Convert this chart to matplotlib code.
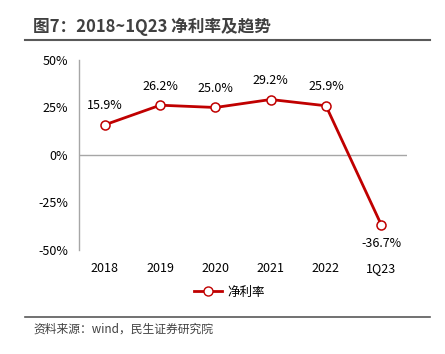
import matplotlib
matplotlib.use("Agg")
import matplotlib.pyplot as plt
from matplotlib.lines import Line2D

plt.rcParams['font.family'] = ['Noto Sans CJK SC', 'DejaVu Sans']

categories = ["2018", "2019", "2020", "2021", "2022", "1Q23"]
net_margin = [15.9, 26.2, 25.0, 29.2, 25.9, -36.7]
yticks = [-50, -25, 0, 25, 50]
red = "#C00000"

fig = plt.figure(figsize=(4.45, 3.54), dpi=100)
ax = fig.add_axes([0.1775, 0.294, 0.7375, 0.5365])

x = list(range(len(categories)))
ax.plot(x, net_margin, color=red, lw=2, marker="o", ms=6.5,
        markerfacecolor="white", markeredgecolor=red, markeredgewidth=1.1,
        zorder=3)

for xi, v in zip(x, net_margin):
    if v >= 0:
        ax.annotate(f"{v:.1f}%", (xi, v), xytext=(0, 9), textcoords="offset points",
                    ha="center", va="bottom", fontsize=9, color="black")
    else:
        ax.annotate(f"{v:.1f}%", (xi, v), xytext=(0, -9), textcoords="offset points",
                    ha="center", va="top", fontsize=9, color="black")

ax.set_xlim(-0.47, len(categories) - 0.53)
ax.set_ylim(-50, 50)
ax.set_yticks(yticks)
ax.set_yticklabels([f"{t}%" for t in yticks], fontsize=9)
ax.set_xticks(x)
ax.set_xticklabels(categories, fontsize=9)
ax.tick_params(axis="y", length=0, pad=8)
ax.tick_params(axis="x", length=0, pad=9)
ax.axhline(0, color="#A6A6A6", lw=1, zorder=1)
for s in ["top", "right", "bottom"]:
    ax.spines[s].set_visible(False)
ax.spines["left"].set_color("#A6A6A6")
ax.spines["left"].set_linewidth(1)

handle = Line2D([], [], color=red, lw=2, marker="o", ms=6.5,
                markerfacecolor="white", markeredgecolor=red)
fig.legend([handle], ["净利率"], loc="center", bbox_to_anchor=(0.515, 0.175),
           frameon=False, fontsize=9, handlelength=2.3, handletextpad=0.4)

fig.text(0.075, 0.923, "图7：2018~1Q23 净利率及趋势", fontsize=12, fontweight="bold",
         color="#404040", va="center")
fig.add_artist(Line2D([0.056, 0.967], [0.887, 0.887], color="#595959", lw=1.5))
fig.add_artist(Line2D([0.056, 0.967], [0.105, 0.105], color="#595959", lw=1.2))
fig.text(0.075, 0.07, "资料来源：wind，民生证券研究院", fontsize=8.5,
         color="#404040", va="center")

fig.savefig("out.png", dpi=100)
